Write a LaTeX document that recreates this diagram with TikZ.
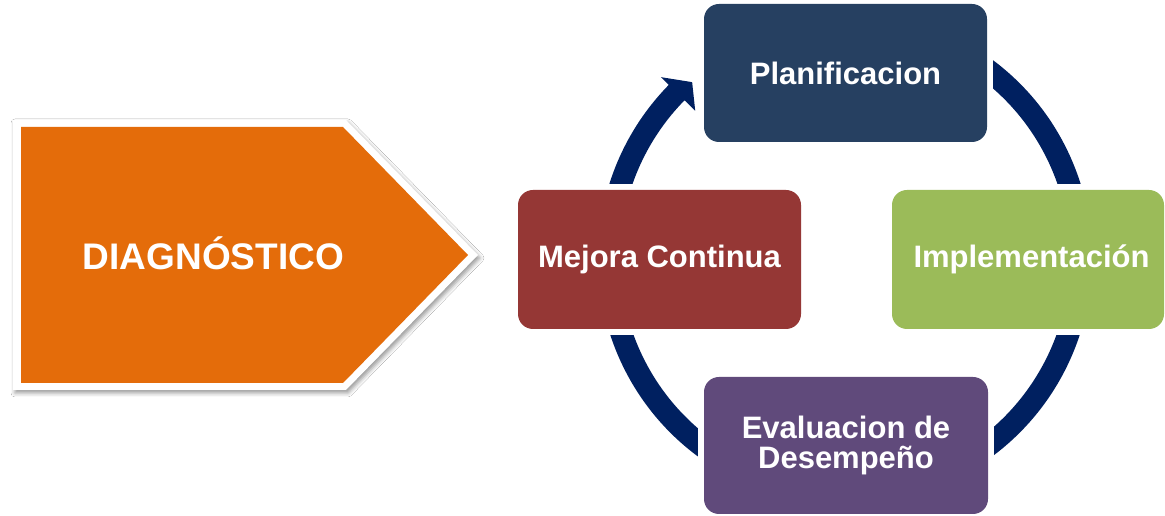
\documentclass[tikz,border=0pt]{standalone}
\usepackage{fontspec}
\setmainfont{Liberation Sans}
\usetikzlibrary{shadows.blur,backgrounds}
\definecolor{planC}{HTML}{264061}
\definecolor{implC}{HTML}{9BBB59}
\definecolor{mejC}{HTML}{953735}
\definecolor{evalC}{HTML}{604A7B}
\definecolor{orangeC}{HTML}{E46C0A}
\definecolor{ringC}{HTML}{002060}
\tikzset{
  stagebox/.style={rounded corners=15, inner sep=0, align=center, text=white,
    font=\bfseries\fontsize{31}{30}\selectfont},
  ringline/.style={draw=ringC, line width=22, line cap=butt},
  cover/.style={fill=white},
}
\begin{document}
\begin{tikzpicture}[x=1pt,y=1pt]
\useasboundingbox (0,0) rectangle (1165,516);
% orange arrow
\fill[white, blur shadow={shadow xshift=2, shadow yshift=-3, shadow blur radius=4, shadow opacity=40}]
  (13,396) -- (346,396) -- (478,261) -- (346,126) -- (13,126) -- cycle;
\fill[orangeC] (21,389) -- (343,389) -- (468,261) -- (343,133) -- (21,133) -- cycle;
\node[text=white, font=\bfseries\fontsize{37}{37}\selectfont] (diag) at (213.5,263) {DIAGNÓSTICO};
% stages
\node[stagebox, fill=planC, minimum width=283, minimum height=138] (plan) at (845.5,443) {Planificacion};
\node[stagebox, fill=implC, minimum width=272, minimum height=139] (impl) at (1028,256.5) {\hspace*{7pt}Implementación};
\node[stagebox, fill=mejC, minimum width=283, minimum height=139] (mej) at (659.5,256.5) {Mejora Continua};
\node[stagebox, fill=evalC, minimum width=284, minimum height=137] (eval) at (846,70.5) {Evaluacion de\\Desempeño};
\coordinate (c) at (845,258);
\begin{pgfonlayer}{background}
  \fill[white] (0,0) rectangle (1165,516);
  \draw[ringline] ([shift={(110:236)}]c) arc[start angle=110, end angle=-190, radius=236];
  \draw[ringline] ([shift={(170:236)}]c) arc[start angle=170, end angle=135, radius=236];
  \fill[ringC] ([shift={(135.5:258)}]c) -- ([shift={(131:233)}]c) -- ([shift={(135.5:210)}]c) -- cycle;
  \foreach \b in {plan,impl,mej,eval}
    \fill[cover] ([shift={(-6,-6)}]\b.south west) rectangle ([shift={(6,6)}]\b.north east);
\end{pgfonlayer}
\end{tikzpicture}
\end{document}
